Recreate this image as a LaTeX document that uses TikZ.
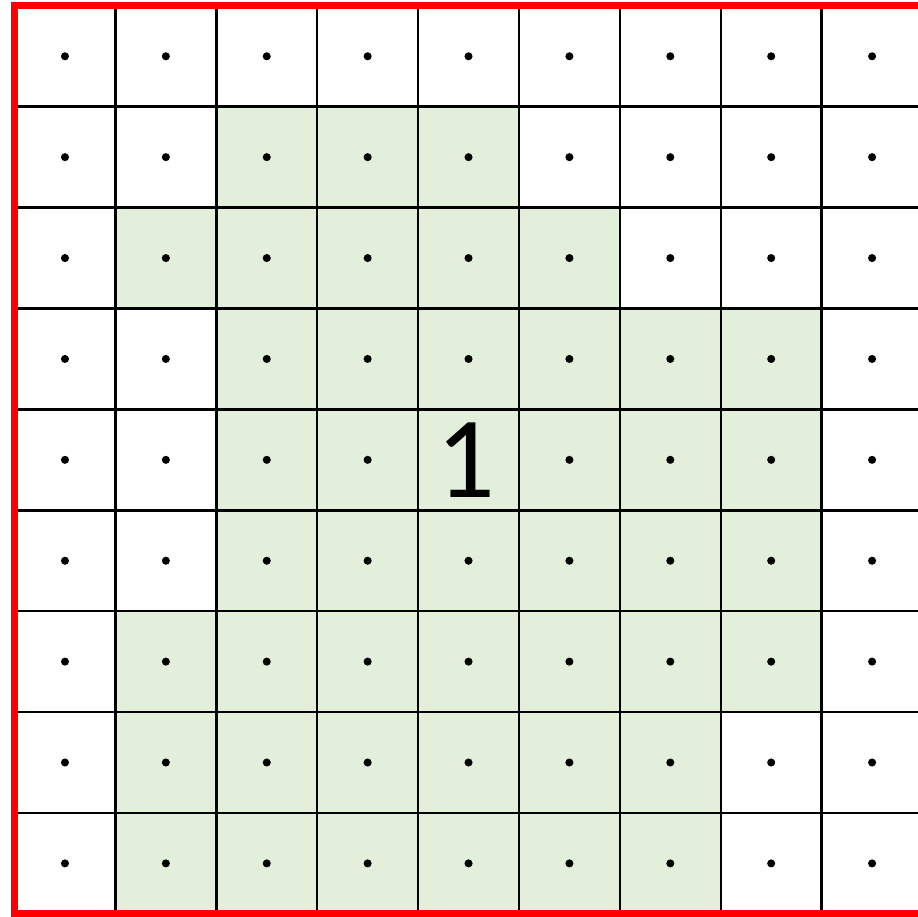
\documentclass[tikz,border=0pt]{standalone}
\usepackage{fontspec}
\setmainfont{Carlito}
\definecolor{cellgreen}{HTML}{E2EFDA}
\begin{document}
\begin{tikzpicture}[scale=1.009]
            \useasboundingbox (-0.144,-0.03) rectangle (8.955,9.058);
            \clip (-0.144,-0.03) rectangle (8.955,9.058);
            % shaded cells, per row from the top: first/last column
            \foreach \r/\a/\b in {1/2/4, 2/1/5, 3/2/7, 4/2/7, 5/2/7, 6/1/7, 7/1/6, 8/1/6}
                \fill[cellgreen] (\a,8-\r) rectangle (\b+1,9-\r);
            \draw[step=1cm,black,line width=0.7pt] (0,0) grid (9.5,9);
            \foreach \i in {0,...,8}
                \foreach \j in {0,...,8}
                    {\ifnum\i=4 \ifnum\j=4 \else\fill (\i+0.5,\j+0.5) circle (0.04);\fi
                     \else\fill (\i+0.5,\j+0.5) circle (0.04);\fi}
            \node (one) at (4.47,4.5) {\fontsize{33}{33}\selectfont 1};
            \draw[red,line width=2pt] (9.5,9) -- (0,9) -- (0,0) -- (9.5,0);
        \end{tikzpicture}
\end{document}
